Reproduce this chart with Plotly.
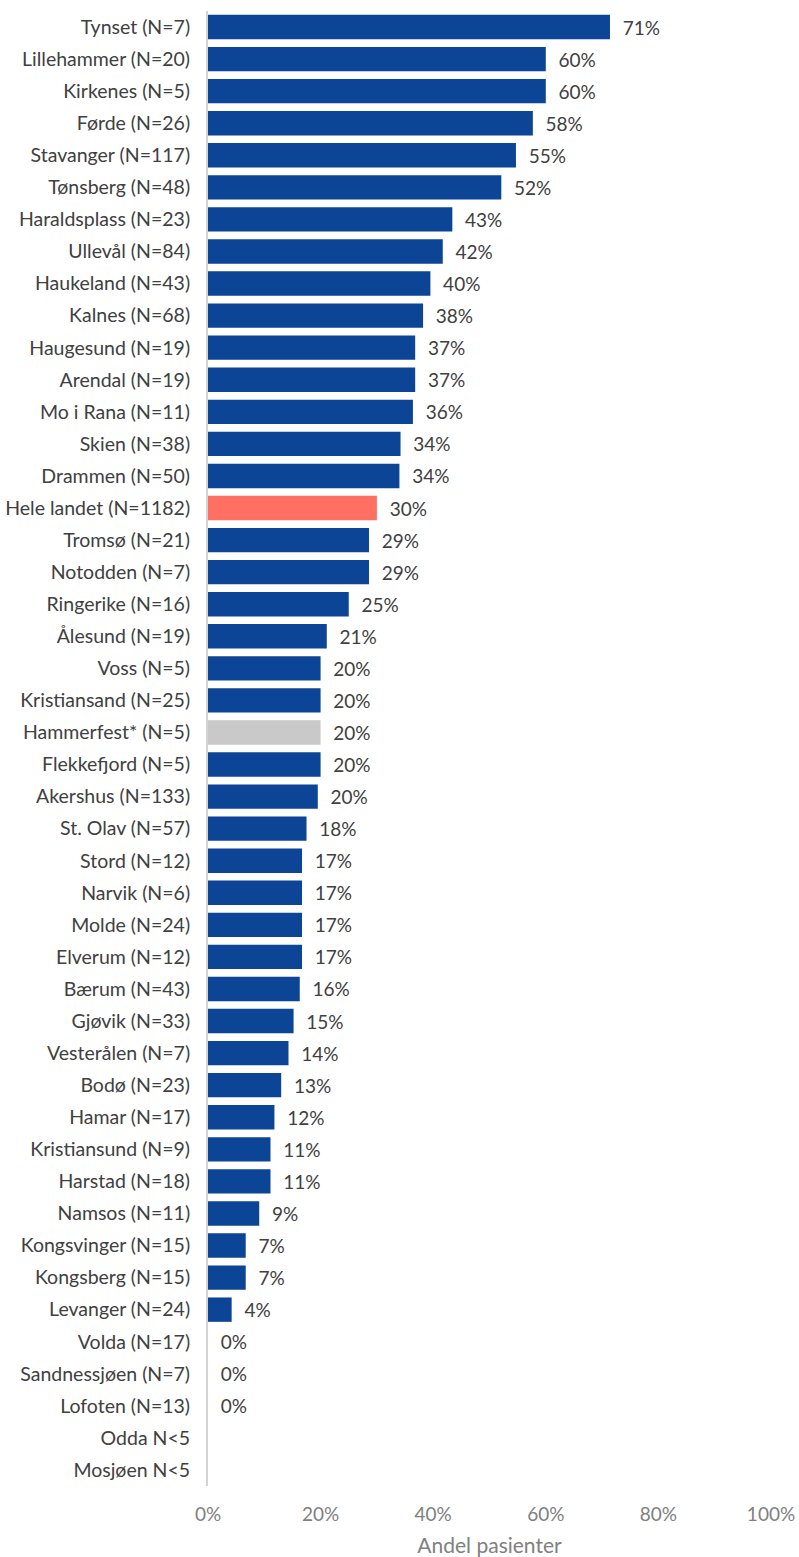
import plotly.graph_objects as go

# Hospitals (top to bottom) and share of patients
hospitals = [
    "Tynset (N=7)", "Lillehammer (N=20)", "Kirkenes (N=5)", "Førde (N=26)",
    "Stavanger (N=117)", "Tønsberg (N=48)", "Haraldsplass (N=23)", "Ullevål (N=84)",
    "Haukeland (N=43)", "Kalnes (N=68)", "Haugesund (N=19)", "Arendal (N=19)",
    "Mo i Rana (N=11)", "Skien (N=38)", "Drammen (N=50)", "Hele landet (N=1182)",
    "Tromsø (N=21)", "Notodden (N=7)", "Ringerike (N=16)", "Ålesund (N=19)",
    "Voss (N=5)", "Kristiansand (N=25)", "Hammerfest* (N=5)", "Flekkefjord (N=5)",
    "Akershus (N=133)", "St. Olav (N=57)", "Stord (N=12)", "Narvik (N=6)",
    "Molde (N=24)", "Elverum (N=12)", "Bærum (N=43)", "Gjøvik (N=33)",
    "Vesterålen (N=7)", "Bodø (N=23)", "Hamar (N=17)", "Kristiansund (N=9)",
    "Harstad (N=18)", "Namsos (N=11)", "Kongsvinger (N=15)", "Kongsberg (N=15)",
    "Levanger (N=24)", "Volda (N=17)", "Sandnessjøen (N=7)", "Lofoten (N=13)",
    "Odda N<5", "Mosjøen N<5",
]
share = [
    0.714, 0.600, 0.600, 0.577,
    0.547, 0.521, 0.434, 0.417,
    0.395, 0.382, 0.368, 0.368,
    0.364, 0.342, 0.340, 0.300,
    0.286, 0.286, 0.250, 0.211,
    0.200, 0.200, 0.200, 0.200,
    0.195, 0.175, 0.167, 0.167,
    0.167, 0.167, 0.163, 0.152,
    0.143, 0.130, 0.118, 0.111,
    0.111, 0.091, 0.067, 0.067,
    0.042, 0.0, 0.0, 0.0,
    None, None,
]
national = "Hele landet (N=1182)"
uncertain = ["Hammerfest* (N=5)"]

BLUE = "#0C4596"
SALMON = "#FF7062"
GREY = "#C9C9C9"

colors = []
for h in hospitals:
    if h == national:
        colors.append(SALMON)
    elif h in uncertain:
        colors.append(GREY)
    else:
        colors.append(BLUE)

FONT = "Lato, sans-serif"

fig = go.Figure(
    go.Bar(
        x=share,
        y=hospitals,
        orientation="h",
        marker=dict(color=colors, line=dict(width=0)),
        width=0.76,
        texttemplate="\u00a0\u00a0%{x:.0%}",
        textposition="outside",
        textfont=dict(family=FONT, size=19, color="#404040"),
        cliponaxis=False,
        hoverinfo="skip",
    )
)

fig.update_layout(
    width=799,
    height=1557,
    margin=dict(l=208, r=28, t=11, b=71, autoexpand=False),
    plot_bgcolor="white",
    paper_bgcolor="white",
    showlegend=False,
    font=dict(family=FONT, size=19, color="#404040"),
)

fig.update_xaxes(
    range=[0, 1.0],
    tickvals=[0, 0.2, 0.4, 0.6, 0.8, 1.0],
    tickformat=".0%",
    showgrid=False,
    zeroline=False,
    showline=False,
    ticks="",
    automargin=False,
    ticklabelstandoff=15,
    tickfont=dict(size=19, color="#808080"),
    title=dict(text="Andel pasienter", font=dict(size=21, color="#808080"), standoff=14),
)

fig.update_yaxes(
    autorange="reversed",
    showgrid=False,
    zeroline=False,
    showline=True,
    linecolor="#D4D4D4",
    linewidth=2,
    ticks="",
    automargin=False,
    ticklabelstandoff=12,
    tickfont=dict(size=19.5, color="#404040"),
)

fig.write_html("out.html")
